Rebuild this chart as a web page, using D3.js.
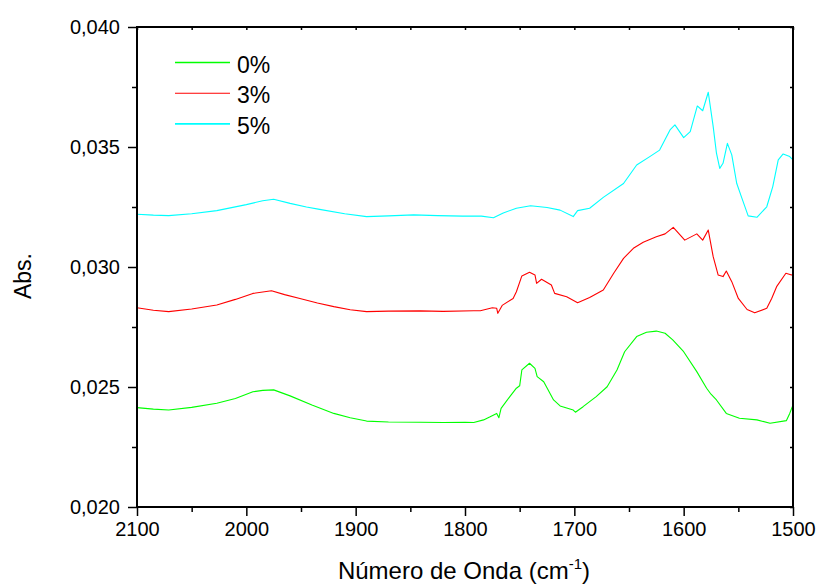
<!DOCTYPE html>
<html><head><meta charset="utf-8">
<script src="https://cdn.jsdelivr.net/npm/d3@7/dist/d3.min.js"></script>
<style>body{margin:0;background:#fff;} svg{display:block;} text{font-family:"Liberation Sans",Arial,sans-serif;fill:#000;}</style>
</head><body>
<svg id="c" width="817" height="585"></svg>
<script>
const seriesNames = ["0%", "3%", "5%"];
const seriesColors = ["#00ff00", "#ff0000", "#00ffff"];
const xTicks = [2100, 2000, 1900, 1800, 1700, 1600, 1500];
const yTicks = [0.020, 0.025, 0.030, 0.035, 0.040];
const yTickLabels = ["0,020", "0,025", "0,030", "0,035", "0,040"];

const green = [
[2100,0.02414],[2085,0.02408],[2071,0.02404],[2050,0.02415],[2027,0.02432],[2010,0.02452],[1994,0.02480],[1985,0.02486],[1975,0.02488],[1960,0.02463],[1940,0.02425],[1920,0.02390],[1905,0.02372],[1890,0.02358],[1870,0.02354],[1841,0.02353],[1820,0.02352],[1800,0.02353],[1792,0.02352],[1783,0.02363],[1777,0.02376],[1771,0.02390],[1769,0.02372],[1767,0.02411],[1759,0.02460],[1753,0.02495],[1750,0.02505],[1748,0.02571],[1741,0.02599],[1736,0.02578],[1734,0.02543],[1728,0.02522],[1719,0.02446],[1713,0.02421],[1701,0.02404],[1699,0.02395],[1692,0.02418],[1680,0.02460],[1670,0.02501],[1661,0.02571],[1654,0.02647],[1643,0.02710],[1634,0.02728],[1625,0.02733],[1617,0.02724],[1610,0.02696],[1600,0.02647],[1588,0.02564],[1579,0.02495],[1575,0.02470],[1570,0.02446],[1561,0.02390],[1549,0.02370],[1533,0.02363],[1521,0.02349],[1506,0.02360],[1503,0.02390],[1500,0.02425]
];
const red = [
[2100,0.02830],[2085,0.02820],[2071,0.02814],[2050,0.02825],[2027,0.02842],[2010,0.02865],[1994,0.02890],[1977,0.02901],[1965,0.02885],[1951,0.02869],[1935,0.02850],[1920,0.02835],[1905,0.02822],[1890,0.02814],[1870,0.02816],[1841,0.02817],[1820,0.02815],[1792,0.02818],[1786,0.02818],[1775,0.02830],[1771,0.02828],[1770,0.02807],[1766,0.02840],[1756,0.02869],[1753,0.02897],[1748,0.02963],[1741,0.02978],[1736,0.02967],[1734.5,0.02932],[1730,0.02949],[1721,0.02925],[1718,0.02890],[1707,0.02876],[1697,0.02851],[1686,0.02873],[1673.5,0.02904],[1664,0.02974],[1655,0.03036],[1646,0.03078],[1637,0.03103],[1625,0.03126],[1617,0.03138],[1609.5,0.03165],[1599,0.03112],[1588,0.03138],[1582.6,0.03112],[1577.5,0.03154],[1573,0.03043],[1568.5,0.02967],[1564,0.02960],[1561,0.02983],[1556,0.02939],[1550,0.02869],[1542,0.02823],[1535,0.02809],[1524,0.02828],[1519.5,0.02869],[1515,0.02918],[1506.5,0.02974],[1501.3,0.02967],[1500,0.02970]
];
const cyan = [
[2100,0.03220],[2085,0.03216],[2071,0.03214],[2050,0.03222],[2027,0.03235],[2000,0.03260],[1985,0.03276],[1975,0.03282],[1960,0.03265],[1945,0.03250],[1933,0.03240],[1910,0.03222],[1890,0.03210],[1870,0.03213],[1847,0.03217],[1825,0.03214],[1802,0.03212],[1785,0.03212],[1774,0.03205],[1765,0.03225],[1753,0.03245],[1740,0.03255],[1725,0.03248],[1713,0.03237],[1701,0.03210],[1697,0.03235],[1686,0.03245],[1673.5,0.03290],[1655,0.03348],[1643,0.03425],[1631,0.03460],[1622,0.03487],[1612.5,0.03571],[1608,0.03592],[1600,0.03539],[1594,0.03564],[1587.5,0.03671],[1582.6,0.03651],[1577.5,0.03728],[1573,0.03585],[1570,0.03474],[1567,0.03411],[1564,0.03432],[1560,0.03515],[1556,0.03467],[1551.5,0.03349],[1547,0.03290],[1541,0.03213],[1533,0.03207],[1524,0.03251],[1518.5,0.03335],[1513.5,0.03446],[1509,0.03471],[1503,0.03460],[1500,0.03446]
];
const seriesData = [green, red, cyan];

const L = 137, R = 793, T = 27, B = 507;
const svg = d3.select("#c");
const x = d3.scaleLinear().domain([2100, 1500]).range([L, R]);
const y = d3.scaleLinear().domain([0.020, 0.040]).range([B, T]);
const xMinor = d3.range(2050, 1500, -100);
const yMinor = [0.0225, 0.0275, 0.0325, 0.0375];
const fs = 20;

// data lines
const line = d3.line().x(d => x(d[0])).y(d => y(d[1]));
seriesData.forEach((s, i) => {
  svg.append("path").attr("d", line(s)).attr("fill", "none")
    .attr("stroke", seriesColors[i]).attr("stroke-width", 1.1).attr("stroke-linejoin", "round");
});

// bottom axis
const gBottom = svg.append("g").attr("transform", `translate(0,${B})`)
  .call(d3.axisBottom(x).tickValues(xTicks).tickFormat(d3.format("d")).tickSize(9).tickPadding(6));
gBottom.append("g").call(d3.axisBottom(x).tickValues(xMinor).tickFormat("").tickSize(5));
// left axis
const gLeft = svg.append("g").attr("transform", `translate(${L},0)`)
  .call(d3.axisLeft(y).tickValues(yTicks).tickFormat((d, i) => yTickLabels[i]).tickSize(9).tickPadding(8));
gLeft.append("g").call(d3.axisLeft(y).tickValues(yMinor).tickFormat("").tickSize(5));
// top axis (inward)
const gTop = svg.append("g").attr("transform", `translate(0,${T})`)
  .call(d3.axisBottom(x).tickValues(xTicks.concat(xMinor)).tickFormat("").tickSize(3));
// right axis (inward)
const gRight = svg.append("g").attr("transform", `translate(${R},0)`)
  .call(d3.axisLeft(y).tickValues(yTicks.concat(yMinor)).tickFormat("").tickSize(3));

[gBottom, gLeft, gTop, gRight].forEach(g => {
  g.selectAll(".domain").remove();
  g.selectAll("line").attr("stroke", "#000").attr("stroke-width", 1.5);
  g.selectAll("text").attr("font-size", fs).attr("font-family", "Liberation Sans, Arial, sans-serif").attr("fill", "#000");
});
svg.append("rect").attr("x", L).attr("y", T).attr("width", R - L).attr("height", B - T)
  .attr("fill", "none").attr("stroke", "#000").attr("stroke-width", 2);

// axis titles
const xt = svg.append("text").attr("x", 464).attr("y", 579).attr("text-anchor", "middle").attr("font-size", 24);
xt.append("tspan").text("Número de Onda (cm");
xt.append("tspan").attr("font-size", 15).attr("dy", -10).text("-1");
xt.append("tspan").attr("dy", 10).text(")");
svg.append("text").attr("transform", "translate(31,276) rotate(-90)").attr("text-anchor", "middle")
  .attr("font-size", 23).text("Abs.");

// legend
seriesNames.forEach((n, i) => {
  const ly = 62.5 + i * 30.7;
  svg.append("line").attr("x1", 175).attr("x2", 230).attr("y1", ly).attr("y2", ly)
    .attr("stroke", seriesColors[i]).attr("stroke-width", i === 1 ? 1.1 : 1.6);
  svg.append("text").attr("x", 237).attr("y", ly + 10).attr("font-size", 23).text(n);
});
</script>
</body></html>
